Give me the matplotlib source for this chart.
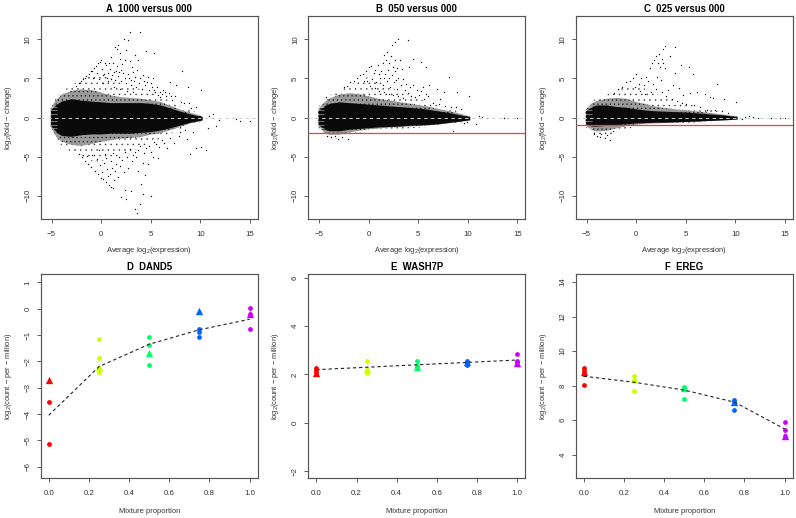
import matplotlib
matplotlib.use("Agg")
import matplotlib.pyplot as plt

plt.rcParams['font.family'] = ['Liberation Sans', 'DejaVu Sans']
plt.rcParams['mathtext.fontset'] = 'custom'
plt.rcParams['mathtext.rm'] = 'Liberation Sans'
plt.rcParams['mathtext.it'] = 'Liberation Sans'
plt.rcParams['mathtext.bf'] = 'Liberation Sans:bold'
plt.rcParams['axes.unicode_minus'] = True
plt.rcParams['hatch.linewidth'] = 0.3

# ---------- MA panels: envelopes of the solid, dark-speckled and light-speckled parts of each cloud
ENV_X = [-5.1, -4.5, -4, -3, -2, -1, 0, 1, 2, 3, 4, 5, 6, 7, 8, 9, 10.2]

A_DENSE_UP = [1.0, 1.7, 2.1, 2.4, 2.2, 2.1, 2.0, 1.9, 1.9, 1.9, 1.9, 1.8, 1.6, 1.2, 0.8, 0.45, 0.1]
A_DENSE_LO = [-1.0, -1.9, -2.3, -2.4, -2.2, -2.1, -2.1, -2.0, -2.0, -2.0, -1.9, -1.8, -1.6, -1.3, -0.95, -0.6, -0.3]
A_MID_UP = [1.2, 2.3, 2.9, 3.4, 3.6, 3.5, 3.2, 2.8, 2.6, 2.5, 2.4, 2.2, 2.0, 1.5, 1.0, 0.6, 0.2]
A_MID_LO = [-1.2, -2.5, -3.1, -3.5, -3.6, -3.4, -3.1, -2.9, -2.7, -2.6, -2.5, -2.2, -2.0, -1.6, -1.2, -0.75, -0.4]
A_OUT_UP = [1.3, 2.6, 3.3, 4.1, 4.9, 5.6, 5.6, 5.0, 4.4, 4.0, 3.6, 3.2, 2.7, 2.1, 1.5, 1.0, 0.35]
A_OUT_LO = [-1.3, -2.8, -3.6, -4.4, -5.0, -5.6, -5.6, -5.2, -4.8, -4.4, -3.8, -3.2, -2.7, -2.1, -1.5, -1.0, -0.5]

B_DENSE_UP = [0.9, 1.5, 1.8, 2.0, 1.9, 1.8, 1.7, 1.6, 1.5, 1.4, 1.3, 1.2, 1.05, 0.85, 0.65, 0.4, 0.1]
B_DENSE_LO = [-0.9, -1.5, -1.7, -1.7, -1.5, -1.4, -1.3, -1.2, -1.15, -1.1, -1.0, -0.95, -0.9, -0.8, -0.65, -0.5, -0.3]
B_MID_UP = [1.1, 1.9, 2.4, 2.9, 3.1, 3.0, 2.7, 2.4, 2.2, 2.0, 1.8, 1.6, 1.4, 1.1, 0.85, 0.55, 0.15]
B_MID_LO = [-1.1, -1.9, -2.2, -2.2, -1.9, -1.7, -1.5, -1.4, -1.3, -1.25, -1.15, -1.1, -1.0, -0.9, -0.75, -0.55, -0.3]
B_OUT_UP = [1.3, 2.2, 2.8, 3.4, 4.0, 4.8, 5.2, 4.6, 4.0, 3.4, 2.9, 2.4, 2.0, 1.6, 1.2, 0.8, 0.25]
B_OUT_LO = [-1.3, -2.2, -2.6, -2.7, -2.4, -2.0, -1.8, -1.7, -1.6, -1.5, -1.4, -1.3, -1.2, -1.1, -0.9, -0.7, -0.4]

C_DENSE_UP = [0.9, 1.4, 1.6, 1.6, 1.4, 1.3, 1.1, 0.95, 0.85, 0.8, 0.75, 0.7, 0.6, 0.5, 0.4, 0.3, 0.1]
C_DENSE_LO = [-0.8, -1.1, -1.1, -1.0, -0.9, -0.8, -0.7, -0.65, -0.6, -0.6, -0.55, -0.5, -0.45, -0.4, -0.35, -0.3, -0.2]
C_MID_UP = [1.0, 1.8, 2.1, 2.4, 2.5, 2.4, 2.0, 1.7, 1.4, 1.2, 1.05, 0.95, 0.8, 0.65, 0.5, 0.35, 0.12]
C_MID_LO = [-1.0, -1.6, -1.8, -1.7, -1.4, -1.1, -0.9, -0.8, -0.75, -0.7, -0.65, -0.6, -0.55, -0.45, -0.38, -0.3, -0.22]
C_OUT_UP = [1.2, 2.1, 2.4, 2.9, 3.5, 4.2, 4.3, 3.6, 3.0, 2.5, 2.1, 1.8, 1.5, 1.2, 0.9, 0.6, 0.2]
C_OUT_LO = [-1.2, -2.1, -2.5, -2.4, -1.9, -1.5, -1.2, -1.0, -0.9, -0.85, -0.8, -0.7, -0.65, -0.55, -0.45, -0.35, -0.25]

# ---------- individually read outlying points, (average log2 expression, log2 fold change)
A_POINTS = [
    (2.95, 10.9), (3.96, 10.87), (2.28, 10.06), (2.7, 9.85), (1.4, 9.0), (1.7, 9.3), (1.55, 8.8), (1.95, 8.2),
    (2.55, 8.6), (3.4, 7.95), (4.5, 8.45), (5.3, 8.25), (3.7, 7.3), (2.9, 7.2), (8.15, 5.96), (8.8, 3.93),
    (10.1, 3.5), (6.9, 4.57), (7.6, 4.1), (6.2, 3.5), (5.6, 3.9), (4.7, 5.2), (5.2, 5.0), (4.2, 5.4), (3.2, 5.8),
    (1.5, 6.0), (1.2, 6.9), (0.5, 6.7), (5.9, 2.66), (7.2, 2.2), (8.1, 2.0), (8.9, 1.8), (9.6, 1.4),
    (11.3, 0.47), (10.9, 0.2), (11.9, -0.3), (13.6, -0.2), (14.0, -0.4), (15.0, -0.5), (11.6, -1.1), (10.8, -1.35),
    (-2.5, 4.0), (-2.2, 4.4), (-2.0, 4.6), (-1.8, 4.9), (-1.5, 5.3), (-1.2, 5.6), (-1.0, 5.9), (-0.7, 6.3),
    (-0.5, 6.6), (-0.3, 6.9), (0.0, 7.3), (-0.1, 7.1), (-1.6, 5.1), (-0.9, 6.0),
    (0.1, 6.2), (0.3, 5.6), (0.6, 5.1), (0.9, 6.2), (1.1, 5.4), (1.4, 4.8), (1.7, 5.3), (2.0, 4.6), (2.2, 5.7),
    (2.5, 4.4), (2.8, 5.0), (3.0, 4.2), (3.3, 4.7), (3.5, 3.9), (3.8, 4.4), (4.1, 3.6), (4.4, 4.1), (4.8, 3.5),
    (5.1, 3.9), (5.4, 3.2), (5.7, 2.9), (6.5, 2.7), (6.8, 3.1), (7.5, 2.8), (8.4, 1.9), (9.1, 1.2), (2.1, 6.8),
    (2.4, 7.4), (1.0, 7.7), (1.9, 7.5), (3.1, 6.4), (3.6, 6.1), (0.7, 4.6), (1.3, 3.9), (1.9, 3.6), (2.6, 3.4),
    (3.2, 3.2), (-0.4, 5.7), (-0.2, 4.9), (0.2, 4.4), (-0.8, 5.0), (0.4, 7.0), (0.8, 6.9), (1.6, 6.6), (2.0, 6.1),
    (0.2, 5.4), (0.7, 5.7), (1.0, 4.9), (1.3, 5.8), (1.8, 5.8), (2.4, 5.1), (2.7, 5.6), (3.0, 4.8), (3.4, 5.2),
    (3.9, 5.0), (4.3, 4.7), (4.6, 4.5), (5.0, 4.4), (5.3, 3.5), (5.9, 3.3), (6.1, 3.0), (6.4, 3.2), (7.1, 2.7),
    (10.6, -4.1), (10.1, -3.75), (9.6, -3.9), (9.0, -4.65), (8.65, -2.8), (7.9, -2.4), (9.3, -1.9), (8.5, -1.6),
    (3.6, -12.2), (3.4, -11.7), (3.9, -11.0), (2.5, -10.4), (2.0, -10.1), (5.07, -10.0), (4.2, -9.8), (2.4, -9.2),
    (4.05, -8.5), (3.0, -9.4), (1.2, -9.0), (4.4, -7.3), (3.7, -6.85), (4.7, -6.0), (4.2, -5.8), (5.7, -5.2),
    (5.2, -5.0), (6.6, -3.9), (1.0, -8.9), (0.8, -8.6), (0.5, -8.3), (0.2, -7.9), (0.0, -7.7), (-0.3, -7.2),
    (-0.6, -6.8), (-1.0, -6.3), (-1.3, -5.9), (-1.6, -5.5), (-1.9, -5.1), (-2.2, -4.7),
    (1.3, -8.0), (1.7, -7.6), (1.4, -6.8), (1.9, -6.2), (2.3, -7.0), (2.7, -6.4), (3.1, -5.6), (3.5, -5.1),
    (0.9, -7.2), (0.6, -6.6), (1.0, -5.6), (0.3, -5.8), (-0.1, -6.1), (-0.4, -5.3), (0.4, -4.7), (1.2, -4.5),
    (1.8, -5.0), (2.4, -4.4), (2.9, -4.0), (3.4, -4.4), (3.9, -3.7), (4.3, -4.5), (4.8, -3.6), (5.3, -3.1),
    (5.8, -3.8), (6.1, -2.9), (6.9, -2.6), (7.4, -3.2), (8.0, -1.9), (-0.9, -4.8), (-1.4, -4.9), (-0.2, -4.2),
    (0.7, -7.5), (1.1, -6.4), (0.1, -6.9), (0.5, -5.2), (1.5, -5.9), (2.1, -5.4), (2.6, -5.1), (3.2, -4.8),
    (3.7, -4.1), (4.5, -3.9), (5.0, -4.4), (5.5, -3.4), (6.3, -3.3),
]
B_POINTS = [
    (2.95, 10.0), (3.96, 9.9), (2.7, 9.6), (2.3, 9.3), (1.8, 8.4), (1.5, 8.0), (1.7, 7.3), (2.2, 7.9), (2.7, 7.4),
    (3.2, 7.3), (4.5, 7.5), (5.3, 7.1), (3.4, 6.2), (4.1, 6.5), (2.9, 6.3), (5.8, 6.5), (8.15, 5.2), (8.9, 3.2),
    (10.1, 2.75), (6.9, 3.7), (7.6, 3.3), (6.1, 4.2), (5.5, 3.9), (4.9, 3.5), (4.5, 4.1), (6.0, 2.7), (7.2, 2.3),
    (8.3, 1.4), (8.8, 1.3), (9.3, 1.1), (11.1, 0.25), (11.4, 0.1), (11.9, -0.1), (13.6, -0.05), (14.1, 0.0), (15.0, -0.1),
    (10.8, -0.8), (8.55, -1.75), (-2.1, -2.7), (-2.7, -2.5), (-3.1, -2.7), (-3.8, -2.5), (-4.2, -2.4), (-3.4, -2.4),
    (-2.5, 3.9), (-2.2, 4.0), (-1.9, 4.5), (-1.5, 4.7), (-1.2, 5.1), (-0.9, 5.4), (-0.6, 5.5), (-0.3, 6.0), (0.0, 6.4),
    (0.2, 6.6), (0.5, 5.7), (0.9, 6.7), (1.2, 6.0), (1.6, 5.5), (1.9, 6.1), (2.3, 5.4), (2.6, 6.0), (3.0, 5.1),
    (0.3, 4.9), (0.7, 4.5), (1.1, 5.0), (1.4, 4.2), (1.8, 4.6), (2.1, 3.9), (2.5, 4.5), (2.9, 3.7), (3.3, 4.2),
    (3.7, 3.5), (4.0, 3.1), (4.3, 2.8), (4.7, 2.6), (5.1, 2.9), (5.6, 2.3), (6.5, 1.9), (7.1, 1.7), (7.7, 1.5),
    (-0.2, 4.7), (-0.5, 4.6), (0.1, 4.0), (0.6, 3.8), (1.0, 3.4), (1.5, 3.3), (2.0, 3.0), (2.4, 2.9), (3.0, 2.7),
    (3.5, 2.5), (-4.3, 2.6), (9.6, -0.75), (9.9, -0.6), (0.6, 6.1), (1.4, 6.9), (2.0, 7.0), (2.4, 6.5), (1.0, 5.6),
    (1.5, 5.0), (2.0, 5.1), (2.8, 4.8), (3.5, 4.9), (3.8, 4.3), (4.2, 3.9), (5.3, 3.4), (5.8, 3.0),
]
C_POINTS = [
    (2.95, 9.15), (3.96, 9.05), (2.7, 8.8), (2.3, 8.1), (1.8, 7.4), (2.0, 7.8), (2.6, 7.5), (1.6, 6.9), (2.2, 6.9),
    (2.7, 6.9), (3.4, 7.9), (2.4, 6.4), (2.9, 6.3), (1.4, 6.3), (4.5, 6.7), (5.3, 6.5), (3.9, 5.7), (5.7, 5.5),
    (8.15, 4.3), (8.85, 2.4), (10.1, 2.0), (6.9, 3.0), (7.5, 2.6), (7.8, 2.5), (6.1, 3.3), (5.4, 3.1), (4.7, 2.9),
    (4.3, 3.8), (3.7, 4.1), (3.2, 3.5), (1.0, 5.2), (0.5, 5.0), (0.0, 5.5), (-0.3, 5.0), (-0.6, 4.6), (-1.0, 4.5),
    (-1.4, 3.9), (-1.8, 3.6), (-2.2, 3.1), (0.3, 4.3), (0.8, 4.1), (1.2, 4.7), (1.7, 4.3), (2.1, 5.2), (2.5, 4.8),
    (2.0, 3.6), (1.5, 3.2), (0.9, 3.0), (0.4, 3.4), (-0.1, 3.9), (2.6, 3.2), (3.0, 2.7), (3.6, 2.4), (4.1, 2.1),
    (4.6, 1.9), (5.0, 1.7), (5.8, 1.6), (6.4, 1.3), (7.2, 1.0), (8.0, 0.9), (8.7, 0.8), (9.3, 0.6), (11.0, 0.1),
    (11.4, 0.2), (11.8, 0.05), (12.3, -0.05), (13.6, 0.0), (14.5, -0.05), (15.0, 0.0), (10.7, -0.2), (-2.6, -2.9),
    (-3.1, -2.6), (-3.6, -2.5), (-4.0, -2.4), (-4.3, -2.1), (-2.9, -2.2), (-2.3, -1.7), (-3.5, -2.1),
]
STRIPE_Y = [-1.35, -0.9, -0.45, 0.45, 0.9, 1.35]

A_TITLE, B_TITLE, C_TITLE = "A  1000 versus 000", "B  050 versus 000", "C  025 versus 000"
B_CUTOFF = -2
C_CUTOFF = -1
MA_XTICKS = [-5, 0, 5, 10, 15]
MA_YTICKS = [-10, -5, 0, 5, 10]

# ---------- mixture panels
MIX = [0.0, 0.25, 0.5, 0.75, 1.0]
MIX_COLORS = ['#FF0000', '#CCFF00', '#00FF66', '#0066FF', '#CC00FF']
MIX_XTICKS = [0.0, 0.2, 0.4, 0.6, 0.8, 1.0]

D_CIRCLES = [[-3.56, -5.15], [-1.14, -1.86, -2.42], [-1.08, -1.37, -2.13], [-0.77, -0.88, -1.08], [0.02, -0.2, -0.79]]
D_TRIANGLES = [-2.7, -2.2, -1.68, -0.1, -0.2]
D_LINE = [-4.05, -2.2, -1.35, -0.8, -0.4]
D_YTICKS = [-6, -5, -4, -3, -2, -1, 0, 1]

E_CIRCLES = [[2.28, 2.2, 2.12], [2.55, 2.2, 2.05], [2.57, 2.35, 2.3], [2.55, 2.45, 2.4], [2.83, 2.55, 2.5]]
E_TRIANGLES = [2.08, 2.22, 2.3, 2.52, 2.48]
E_LINE = [2.2, 2.3, 2.4, 2.5, 2.6]
E_YTICKS = [-2, 0, 2, 4, 6]

F_CIRCLES = [[9.0, 8.85, 8.65, 8.07], [8.55, 8.3, 7.7], [7.95, 7.85, 7.25], [7.2, 7.1, 6.62], [5.88, 5.45, 5.1]]
F_TRIANGLES = [8.8, 8.38, 7.85, 7.05, 5.1]
F_LINE = [8.55, 8.2, 7.75, 7.05, 5.5]
F_YTICKS = [4, 6, 8, 10, 12, 14]

W, H = 796, 518
fig = plt.figure(figsize=(W / 100, H / 100), dpi=100, facecolor='white')
LEFT = [40.7, 308.3, 575.7]
WIDTH = 217.0
TICK_FS, LABEL_FS, TITLE_FS = 5.7, 5.4, 6.9


def str_minus(t):
    return str(t).replace('-', '\u2212')


def make_ax(col, top, bottom, title, xlabel, ylabel, xlim, ylim, xticks, yticks, fmt, xlabel_drop):
    ax = fig.add_axes([LEFT[col] / W, 1 - bottom / H, WIDTH / W, (bottom - top) / H])
    ax.set_xlim(*xlim)
    ax.set_ylim(*ylim)
    ax.set_xticks(xticks, [fmt(t) for t in xticks])
    ax.set_yticks(yticks)
    ax.set_yticklabels([str_minus(t) for t in yticks], rotation=90, va='center')
    ax.tick_params(labelsize=TICK_FS, length=3.2, width=0.6, color='#444444', labelcolor='#333333')
    ax.tick_params(axis='x', pad=5)
    ax.tick_params(axis='y', pad=3.5)
    for s in ax.spines.values():
        s.set_linewidth(0.85)
        s.set_color('#555555')
    ax.set_title(title, fontsize=TITLE_FS, fontweight='bold', pad=2.6)
    ax.set_xlabel(xlabel, fontsize=LABEL_FS, color='#333333')
    ax.set_ylabel(ylabel, fontsize=LABEL_FS, color='#333333')
    ax.yaxis.set_label_coords(-27 / WIDTH, 0.5)
    ax.xaxis.set_label_coords(0.5, -xlabel_drop / (bottom - top))
    return ax


def ma_panel(col, title, du, dl, mu, ml, ou, ol, points, cutoff=None):
    ax = make_ax(col, 15.7, 219.3, title, r"Average log$_2$(expression)", r"log$_2$(fold $-$ change)",
                 (-6.1, 15.8), (-13, 13), MA_XTICKS, MA_YTICKS, str_minus, 26)
    ax.fill_between(ENV_X, ol, ou, facecolor='white', edgecolor='#333333', hatch='...', lw=0, zorder=1)
    ax.fill_between(ENV_X, ml, mu, facecolor='#9a9a9a', edgecolor='black', hatch='....', lw=0, zorder=2)
    ax.fill_between(ENV_X, dl, du, color='#0a0a0a', lw=0, zorder=3)
    ax.hlines(STRIPE_Y, -5.2, -4.5, color='white', lw=0.5, alpha=0.6, zorder=4)
    ax.scatter([p[0] for p in points], [p[1] for p in points], s=0.9, c='black', linewidths=0, zorder=5)
    ax.axhline(0, color='#cfcfcf', lw=0.7, dashes=(3.5, 3.5), zorder=6)
    if cutoff is not None:
        ax.axhline(cutoff, color='#e8453c', lw=0.9, zorder=7)


def mix_panel(col, title, circles, triangles, line, ylim, yticks):
    ax = make_ax(col, 273.7, 478.2, title, "Mixture proportion", r"log$_2$(count $-$ per $-$ million)",
                 (-0.04, 1.04), ylim, MIX_XTICKS, yticks, lambda t: f"{t:.1f}", 30)
    ax.plot(MIX, line, color='#222222', lw=0.8, dashes=(3, 2.5), zorder=4)
    for x, cs, tri, colour in zip(MIX, circles, triangles, MIX_COLORS):
        ax.scatter([x] * len(cs), cs, s=12, marker='o', color=colour, linewidths=0, zorder=3)
        ax.scatter([x], [tri], s=28, marker='^', color=colour, linewidths=0, zorder=3)


ma_panel(0, A_TITLE, A_DENSE_UP, A_DENSE_LO, A_MID_UP, A_MID_LO, A_OUT_UP, A_OUT_LO, A_POINTS)
ma_panel(1, B_TITLE, B_DENSE_UP, B_DENSE_LO, B_MID_UP, B_MID_LO, B_OUT_UP, B_OUT_LO, B_POINTS, B_CUTOFF)
ma_panel(2, C_TITLE, C_DENSE_UP, C_DENSE_LO, C_MID_UP, C_MID_LO, C_OUT_UP, C_OUT_LO, C_POINTS, C_CUTOFF)
mix_panel(0, "D  DAND5", D_CIRCLES, D_TRIANGLES, D_LINE, (-6.44, 1.33), D_YTICKS)
mix_panel(1, "E  WASH7P", E_CIRCLES, E_TRIANGLES, E_LINE, (-2.29, 6.17), E_YTICKS)
mix_panel(2, "F  EREG", F_CIRCLES, F_TRIANGLES, F_LINE, (2.65, 14.48), F_YTICKS)

fig.savefig("out.png", dpi=100)
